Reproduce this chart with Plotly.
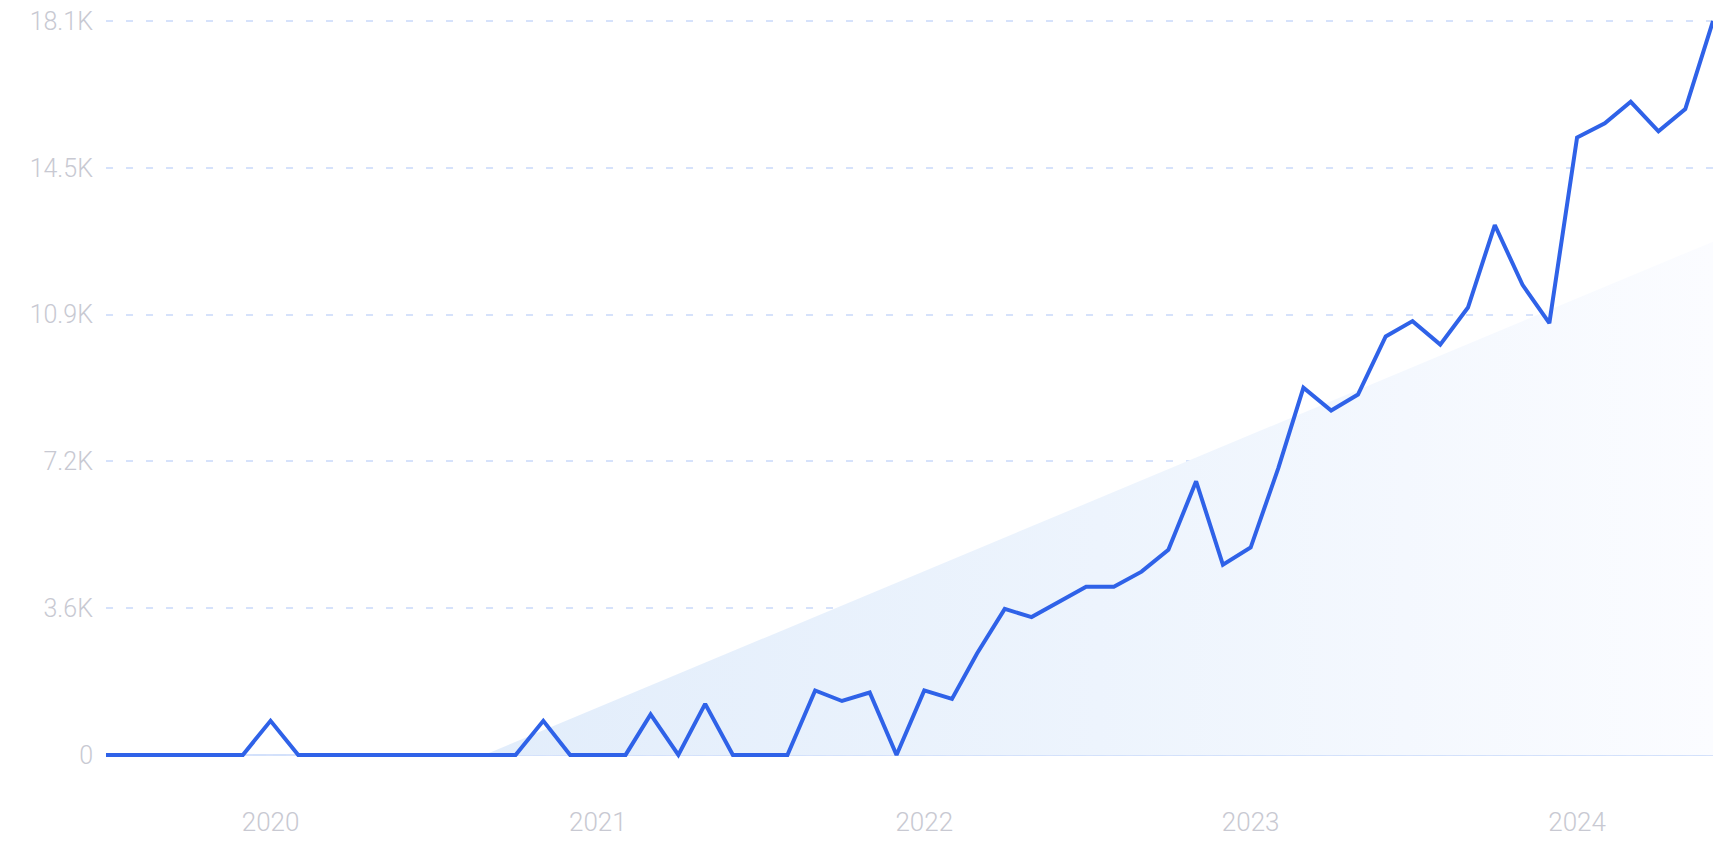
import plotly.graph_objects as go

months = [f"{y}-{m:02d}-01" for y in range(2019, 2025) for m in range(1, 13)]
months = months[6:6 + 60]  # Jul 2019 .. Jun 2024

values = [
    0, 0, 0, 0, 0, 0,            # Jul-Dec 2019
    840, 0, 0, 0, 0, 0, 0, 0, 0, 0, 840, 0,   # 2020
    0, 0, 1000, 0, 1260, 0, 0, 0, 1590, 1330, 1540, 0,  # 2021
    1590, 1380, 2500, 3600, 3400, 3780, 4150, 4150, 4520, 5060, 6750, 4690,  # 2022
    5115, 7080, 9060, 8495, 8890, 10320, 10700, 10120, 11035, 13070, 11595, 10650,  # 2023
    15230, 15580, 16110, 15380, 15930, 18100,  # Jan-Jun 2024
]

trend_dates = ["2020-08-27", "2024-06-01", "2024-06-01"]
trend_values = [0, 12660, 0]

tick_values = [0, 3620, 7240, 10860, 14480, 18100]
tick_labels = ["0", "3.6K", "7.2K", "10.9K", "14.5K", "18.1K"]
year_ticks = ["2020-01-01", "2021-01-01", "2022-01-01", "2023-01-01", "2024-01-01"]
year_labels = ["2020", "2021", "2022", "2023", "2024"]

LINE = "#2f62e8"
GRID = "#d6e2fb"
LABEL = "#c8c9d2"
FONT = "Roboto"

fig = go.Figure()

fig.add_trace(go.Scatter(
    x=trend_dates, y=trend_values, mode="lines", fill="toself",
    line=dict(width=0, color="rgba(0,0,0,0)"),
    fillgradient=dict(type="horizontal",
                      colorscale=[[0, "#e2edfb"], [0.5, "#edf4fd"], [1, "#fbfcff"]]),
    hoverinfo="skip", showlegend=False,
))

fig.add_trace(go.Scatter(
    x=months, y=values, mode="lines",
    line=dict(color=LINE, width=4, shape="linear"),
    showlegend=False,
))

fig.update_layout(
    width=1720, height=860,
    margin=dict(l=106, r=7, t=13, b=99),
    paper_bgcolor="white", plot_bgcolor="white",
    font=dict(family=FONT, color=LABEL, size=25),
)

fig.update_xaxes(
    type="date",
    range=["2019-07-01", "2024-06-01"],
    tickvals=year_ticks, ticktext=year_labels,
    showgrid=False, zeroline=False, showline=False,
    ticks="", ticklabelstandoff=43,
    tickfont=dict(family=FONT, color=LABEL, size=26, weight=300),
)

fig.update_yaxes(
    range=[-150, 18250],
    tickvals=tick_values, ticktext=tick_labels,
    showgrid=True, gridcolor=GRID, gridwidth=1.5, griddash="7px,13px",
    zeroline=False, showline=False,
    ticks="", ticklabelstandoff=12,
    tickfont=dict(family=FONT, color=LABEL, size=25, weight=300),
)

# solid zero baseline
fig.add_shape(type="line", xref="paper", x0=0, x1=1, yref="y", y0=0, y1=0,
              line=dict(color="#d3e1fb", width=2), layer="below")

fig.write_html("out.html")
